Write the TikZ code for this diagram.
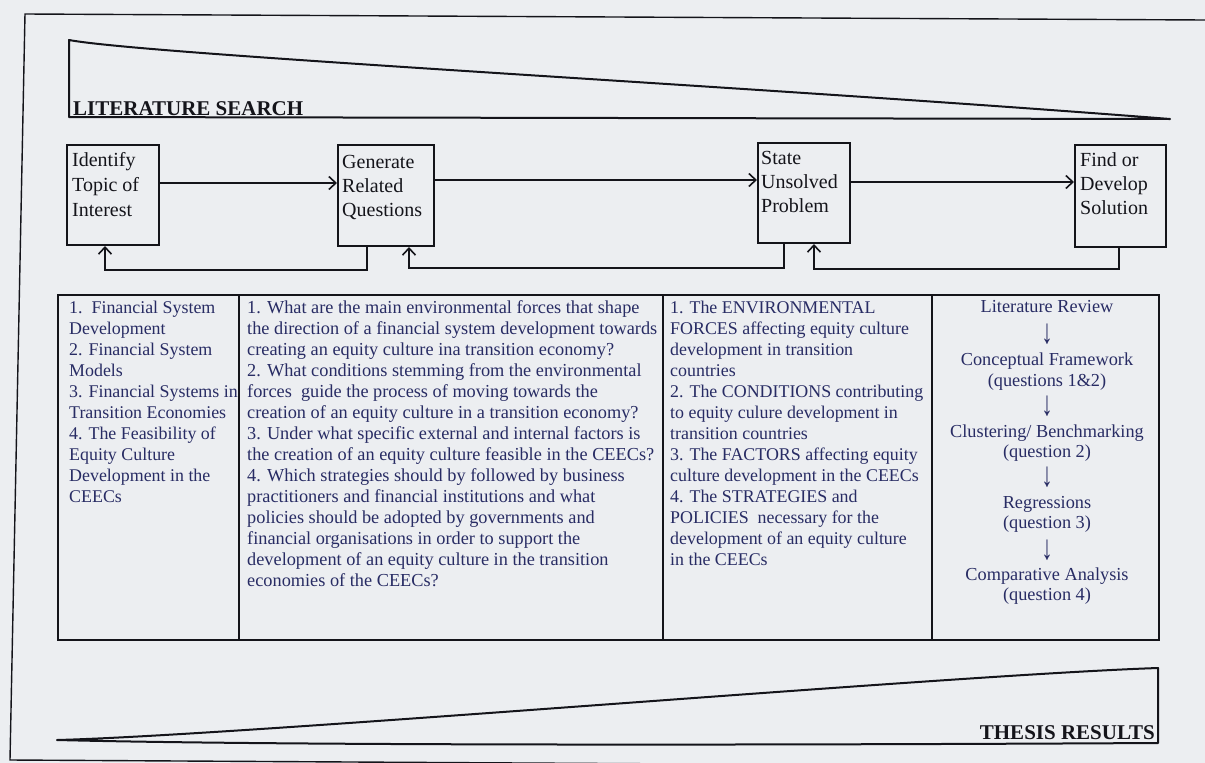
\documentclass[tikz,border=0pt]{standalone}
\usepackage{graphicx}
\usepackage{fontspec}
\setmainfont{Liberation Serif}
\usetikzlibrary{arrows.meta}
\definecolor{paper}{RGB}{236,238,241}
\definecolor{ink}{RGB}{20,20,26}
\definecolor{navy}{RGB}{40,44,100}
\newcommand{\downarr}{\scalebox{1.25}[1.9]{↓}}

\begin{document}
\begin{tikzpicture}[x=1pt,y=-1pt,
  frameline/.style={draw=ink, line width=1.4pt},
  bannerline/.style={draw=ink, line width=2pt, line join=round},
  flowbox/.style={draw=ink, line width=2pt, rectangle, inner sep=0pt},
  flowtxt/.style={font=\fontsize{20}{24}\selectfont, text=ink, inner sep=0pt, anchor=base west},
  flowarrow/.style={draw=ink, line width=2pt, -{Straight Barb[length=7pt,width=13pt,line width=1.6pt]}},
  cell/.style={draw=ink, line width=2pt, rectangle, inner sep=0pt, minimum height=345pt},
  tabtxt/.style={font=\fontsize{18.3}{21}\selectfont, text=navy, inner sep=0pt},
  tabnarrow/.style={tabtxt, font=\fontsize{17.9}{21}\selectfont},
  banner/.style={font=\bfseries\fontsize{21}{24}\selectfont, text=ink, inner sep=0pt}
]
% page
\fill[paper] (0,0) rectangle (1205,763);
\useasboundingbox (0,0) rectangle (1205,763);
\begin{scope}
  \clip (0,0) rectangle (1205,763);
  \draw[frameline] (1205,20) -- (25,14) -- (10,760) -- (1205,767);
\end{scope}

% literature search wedge
\draw[bannerline] (69,40) -- (69,117) -- (1170,119)
  .. controls (750,86) and (150,55) .. cycle;
\node[banner, anchor=base west] (lit) at (73,115) {LITERATURE SEARCH};

% thesis results wedge
\draw[bannerline] (57,740) .. controls (250,735) and (950,675) .. (1158,668)
  -- (1158,743) .. controls (800,745) and (300,746) .. cycle;
\node[banner, anchor=base east] (res) at (1155,739) {THESIS RESULTS};

% research process boxes
\node[flowbox, minimum width=92pt, minimum height=100pt] (b1) at (113,195) {};
\node[flowbox, minimum width=96pt, minimum height=101pt] (b2) at (386,195.5) {};
\node[flowbox, minimum width=92pt, minimum height=100pt] (b3) at (804,193) {};
\node[flowbox, minimum width=91pt, minimum height=102pt] (b4) at (1120.5,196) {};

\node[flowtxt] (b1a) at (72,166) {Identify};
\node[flowtxt] (b1b) at (72,191) {Topic of};
\node[flowtxt] (b1c) at (72,216) {Interest};
\node[flowtxt] (b2a) at (342,168) {Generate};
\node[flowtxt] (b2b) at (342,192) {Related};
\node[flowtxt] (b2c) at (342,216) {Questions};
\node[flowtxt] (b3a) at (761,164) {State};
\node[flowtxt] (b3b) at (761,188) {Unsolved};
\node[flowtxt] (b3c) at (761,212) {Problem};
\node[flowtxt] (b4a) at (1080,166) {Find or};
\node[flowtxt] (b4b) at (1080,190) {Develop};
\node[flowtxt] (b4c) at (1080,214) {Solution};

% forward arrows
\coordinate (f12) at ([yshift=12pt]b1.east);
\coordinate (f23) at ([yshift=15.5pt]b2.east);
\coordinate (f34) at ([yshift=11pt]b3.east);
\draw[flowarrow] (f12) -- (f12 -| b2.west);
\draw[flowarrow] (f23) -- (f23 -| b3.west);
\draw[flowarrow] (f34) -- (f34 -| b4.west);

% feedback loops
\draw[flowarrow] ([xshift=-19pt]b2.south) -- ++(0,23) -| ([xshift=-8pt]b1.south);
\draw[flowarrow] ([xshift=-20pt]b3.south) -- ++(0,24) -| ([xshift=23pt]b2.south);
\draw[flowarrow] ([xshift=-1.5pt]b4.south) -- ++(0,21) -| ([xshift=10pt]b3.south);

% table
\node[cell, minimum width=181pt] (c1) at (148.5,467.5) {};
\node[cell, minimum width=424pt] (c2) at (451,467.5) {};
\node[cell, minimum width=269pt] (c3) at (797.5,467.5) {};
\node[cell, minimum width=227pt] (c4) at (1045.5,467.5) {};

\foreach \s [count=\i] in {
  {1.\ \ Financial System},
  {Development},
  {2. Financial System},
  {Models},
  {3. Financial Systems in},
  {Transition Economies},
  {4. The Feasibility of},
  {Equity Culture},
  {Development in the},
  {CEECs}}
  \node[tabnarrow, anchor=base west] (ta\i) at (69,{313+21*(\i-1)}) {\s};

\foreach \s [count=\i] in {
  {1. What are the main environmental forces that shape},
  {the direction of a financial system development towards},
  {creating an equity culture ina transition economy?},
  {2. What conditions stemming from the environmental},
  {forces\ \ guide the process of moving towards the},
  {creation of an equity culture in a transition economy?},
  {3. Under what specific external and internal factors is},
  {the creation of an equity culture feasible in the CEECs?},
  {4. Which strategies should by followed by business},
  {practitioners and financial institutions and what},
  {policies should be adopted by governments and},
  {financial organisations in order to support the},
  {development of an equity culture in the transition},
  {economies of the CEECs?}}
  \node[tabtxt, anchor=base west] (tb\i) at (247,{313+21*(\i-1)}) {\s};

\foreach \s [count=\i] in {
  {1. The ENVIRONMENTAL},
  {FORCES affecting equity culture},
  {development in transition},
  {countries},
  {2. The CONDITIONS contributing},
  {to equity culure development in},
  {transition countries},
  {3. The FACTORS affecting equity},
  {culture development in the CEECs},
  {4. The STRATEGIES and},
  {POLICIES\ \ necessary for the},
  {development of an equity culture},
  {in the CEECs}}
  \node[tabnarrow, anchor=base west] (tc\i) at (670,{313+21*(\i-1)}) {\s};

% methodology sequence
\node[tabtxt, anchor=base] (m1) at (1047,312) {Literature Review};
\node[tabtxt, anchor=base] (d1) at (1047,343) {\downarr};
\node[tabtxt, anchor=base] (m2) at (1047,365) {Conceptual Framework};
\node[tabtxt, anchor=base] (m2q) at (1047,386) {(questions 1\&2)};
\node[tabtxt, anchor=base] (d2) at (1047,415) {\downarr};
\node[tabtxt, anchor=base] (m3) at (1047,437) {Clustering/ Benchmarking};
\node[tabtxt, anchor=base] (m3q) at (1047,457) {(question 2)};
\node[tabtxt, anchor=base] (d3) at (1047,486) {\downarr};
\node[tabtxt, anchor=base] (m4) at (1047,508) {Regressions};
\node[tabtxt, anchor=base] (m4q) at (1047,528) {(question 3)};
\node[tabtxt, anchor=base] (d4) at (1047,559) {\downarr};
\node[tabtxt, anchor=base] (m5) at (1047,580) {Comparative Analysis};
\node[tabtxt, anchor=base] (m5q) at (1047,600) {(question 4)};
\end{tikzpicture}
\end{document}
